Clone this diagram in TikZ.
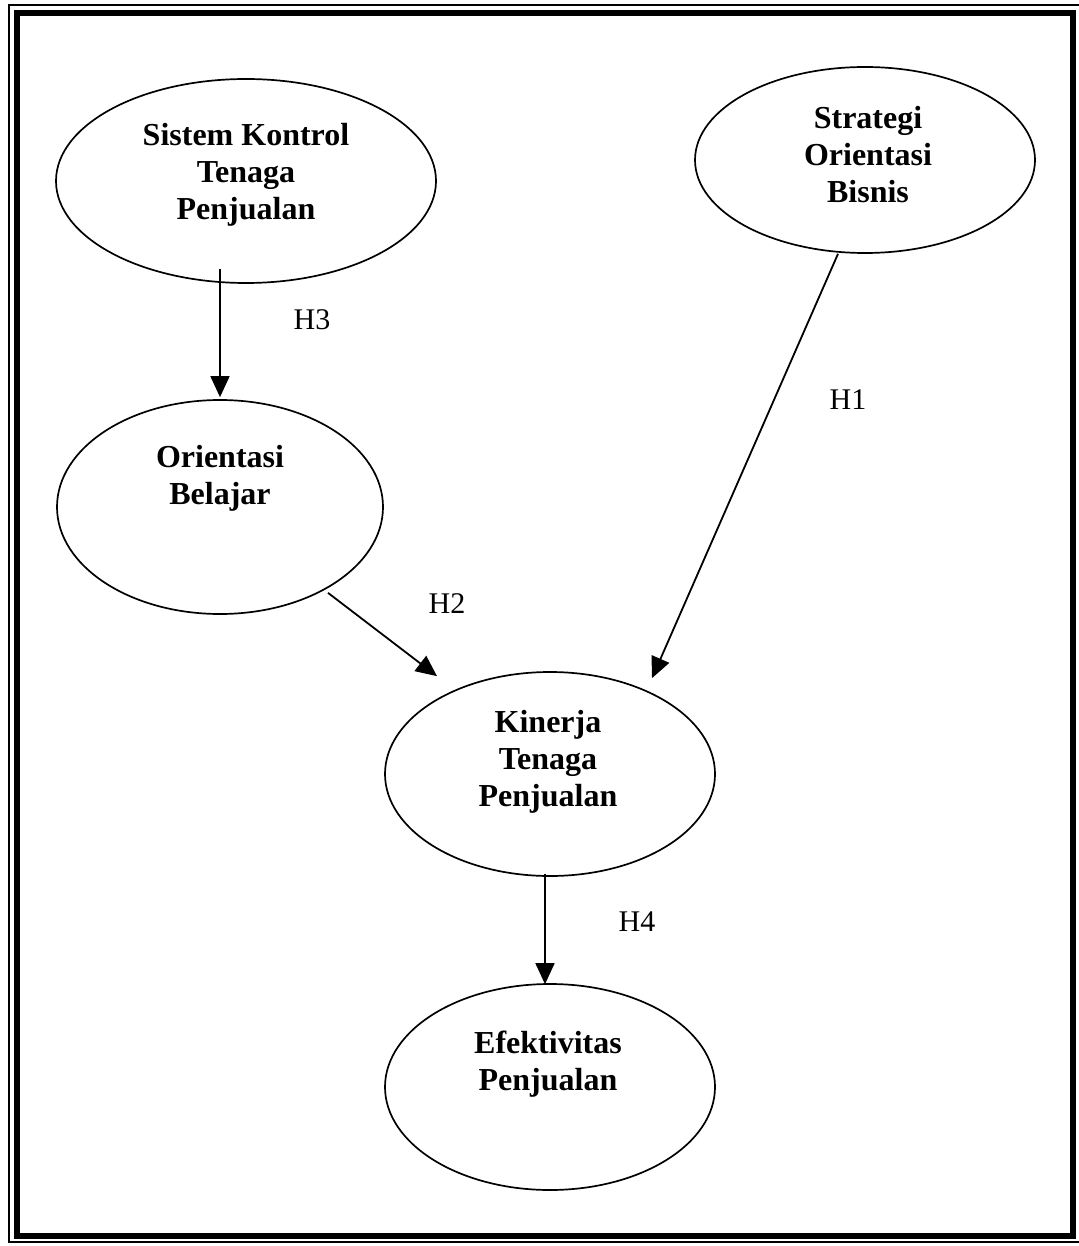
\documentclass[tikz,border=0pt]{standalone}
\usepackage{fontspec}
\setmainfont{Liberation Serif}
\usetikzlibrary{arrows.meta,shapes.geometric}

\tikzset{
  construct/.style={draw=black, line width=1.7pt, ellipse, inner sep=0pt},
  caption/.style={font=\fontsize{32}{37}\selectfont\bfseries, align=center, inner sep=0pt},
  hyp/.style={font=\fontsize{30}{34}\selectfont, inner sep=0pt},
  link/.style={line width=1.8pt, -{Triangle[length=21pt,width=19pt]}},
}

\begin{document}
\begin{tikzpicture}[x=1pt,y=-1pt]
  \useasboundingbox (0,0) rectangle (1078,1246);
  \fill[white] (0,0) rectangle (1078,1246);

  % double frame: thin outer rule, heavy inner rule
  \draw[line width=1.5pt] (1085,5) -- (9,5) -- (9,1242) -- (1085,1242);
  \draw[line width=6.5pt] (17,13) rectangle (1073,1236);

  % constructs
  \node[construct, minimum width=380pt, minimum height=204pt] (sk) at (246,181) {};
  \node[construct, minimum width=340pt, minimum height=186pt] (st) at (865,160) {};
  \node[construct, minimum width=326pt, minimum height=214pt] (ob) at (220,507) {};
  \node[construct, minimum width=330pt, minimum height=204pt] (kt) at (550,774) {};
  \node[construct, minimum width=330pt, minimum height=206pt] (ef) at (550,1087) {};

  \node[caption] (skt) at (246,175) {Sistem Kontrol\\Tenaga\\Penjualan};
  \node[caption] (stt) at (868,155) {Strategi\\Orientasi\\Bisnis};
  \node[caption] (obt) at (220,478) {Orientasi\\Belajar};
  \node[caption] (ktt) at (548,762) {Kinerja\\Tenaga\\Penjualan};
  \node[caption] (eft) at (548,1064) {Efektivitas\\Penjualan};

  % hypothesised paths
  \draw[link] ([xshift=-26pt,yshift=15pt]sk.south) -- ([yshift=2pt]ob.north);
  \draw[link] ([xshift=-27pt]st.south) -- ([xshift=102pt,yshift=-7pt]kt.north);
  \draw[link] ([xshift=108pt,yshift=22pt]ob.south) -- ([xshift=-113pt,yshift=-5pt]kt.north);
  \draw[link] ([xshift=-5pt,yshift=3pt]kt.south) -- ([xshift=-5pt,yshift=-1pt]ef.north);

  \node[hyp] (h3) at (312,320) {H3};
  \node[hyp] (h1) at (848,400) {H1};
  \node[hyp] (h2) at (447,604) {H2};
  \node[hyp] (h4) at (637,922) {H4};
\end{tikzpicture}
\end{document}
